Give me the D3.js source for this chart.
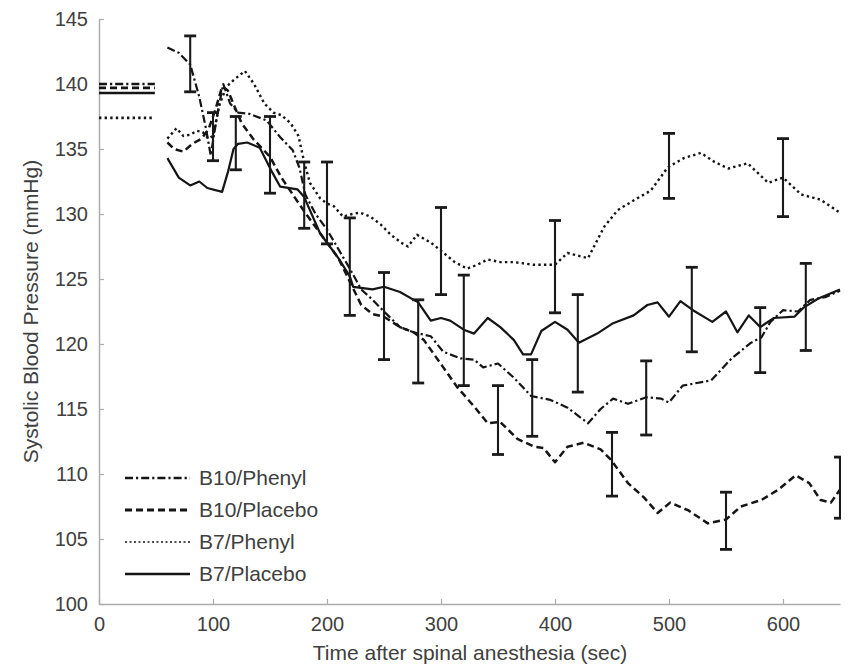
<!DOCTYPE html>
<html><head><meta charset="utf-8">
<script src="https://cdn.jsdelivr.net/npm/d3@7/dist/d3.min.js"></script>
<style>body{margin:0;background:#fff}svg text{font-family:"Liberation Sans",Arial,sans-serif;fill:#404040}</style>
</head><body>
<svg id="c" width="853" height="667"></svg>
<script>
// ---- data ----
const seriesNames = ["B10/Phenyl", "B10/Placebo", "B7/Phenyl", "B7/Placebo"];
const xTicks = [0, 100, 200, 300, 400, 500, 600];
const yTicks = [100, 105, 110, 115, 120, 125, 130, 135, 140, 145];

// baseline (pre-anesthesia) values shown as short lines at left, 0-50 s
const baselineStart = 0, baselineEnd = 49;
const baselineValues = [140.0, 139.7, 137.4, 139.3];

const b10PhenylT = [60,70,80,88,94,98,104,109,115,122,132,147,159,170,176,181,190,200,210,220,230,240,250,264,276,291,302,317,329,337,350,364,379,396,411,429,440,451,464,480,493,500,512,537,555,572,581,589,600,613,624,637,650];
const b10PhenylV = [142.8,142.4,141.5,139.0,136.5,134.5,137.8,140.0,138.5,137.8,137.7,137.2,135.9,134.9,133.5,131.5,130.0,128.8,127.3,125.8,124.2,123.4,122.5,121.3,120.9,120.6,119.4,118.9,118.8,118.2,118.5,117.4,116.0,115.7,115.1,113.9,115.0,115.8,115.4,115.9,115.8,115.5,116.8,117.2,118.9,120.1,120.5,121.7,122.6,122.5,123.4,123.6,124.1];

const b10PlaceboT = [60,66,74,82,90,96,102,108,113,125,135,150,160,170,180,190,200,210,220,230,240,250,264,276,285,302,314,329,341,352,367,382,390,400,411,425,440,449,464,478,490,501,517,534,550,563,581,596,611,623,633,642,650];
const b10PlaceboV = [135.5,135.0,134.8,135.4,135.8,136.5,138.0,139.8,139.5,137.0,135.8,134.4,132.8,131.5,130.2,129.0,127.8,126.6,124.8,123.0,122.3,122.1,121.3,120.9,120.3,118.2,116.7,115.2,113.9,114.0,112.7,112.1,112.0,110.9,112.1,112.4,111.9,111.1,109.3,108.2,107.0,107.8,107.2,106.2,106.5,107.5,108.0,108.8,109.9,109.3,108.0,107.8,108.8];

const b7PhenylT = [60,64,68,74,80,86,91,96,100,106,112,118,128,136,145,153,160,168,175,180,185,194,200,206,214,222,229,238,247,256,265,271,279,291,301,312,323,332,341,352,364,381,400,411,420,429,443,455,472,484,499,513,528,540,552,569,587,600,616,633,650];
const b7PhenylV = [135.8,136.2,136.6,136.0,136.1,136.4,136.3,135.8,136.0,138.5,139.8,140.3,141.0,140.0,138.5,137.8,137.6,137.0,136.0,134.0,132.4,131.2,130.8,130.6,129.8,130.0,130.1,129.8,129.2,128.4,127.8,127.5,128.4,127.8,127.1,126.3,125.8,126.1,126.5,126.3,126.3,126.1,126.1,127.0,126.8,126.6,129.0,130.3,131.2,131.8,133.6,134.3,134.7,134.0,133.5,133.9,132.4,132.8,131.5,131.1,130.1];

const b7PlaceboT = [60,70,80,88,95,108,113,118,122,130,141,152,159,174,180,194,210,220,223,240,250,264,280,291,300,308,320,329,341,352,364,372,379,388,400,411,421,437,451,469,481,490,500,510,521,538,550,560,570,580,592,610,618,631,650];
const b7PlaceboV = [134.3,132.8,132.2,132.5,132.0,131.7,133.2,135.0,135.4,135.5,135.1,133.2,132.1,131.9,131.3,128.5,126.6,125.2,124.4,124.2,124.4,124.0,123.2,121.8,122.0,121.8,121.1,120.8,122.0,121.3,120.3,119.2,119.2,121.0,121.7,121.1,120.1,120.8,121.6,122.2,123.0,123.2,122.1,123.3,122.6,121.7,122.5,120.9,122.2,121.3,122.0,122.1,122.8,123.5,124.2];

// error bars: time, low, high
const errT  = [80,100,120,150,180,200,220,250,280,300,320,350,380,400,420,450,480,500,520,550,580,600,620,650];
const errLo = [139.4,134.1,133.4,131.6,128.9,127.7,122.2,118.8,117.0,123.8,116.8,111.5,112.9,122.4,116.3,108.3,113.0,131.2,119.4,104.2,117.8,129.8,119.5,106.6];
const errHi = [143.7,137.8,137.5,137.5,134.0,134.0,129.7,125.5,123.4,130.5,125.3,116.8,118.8,129.5,123.8,113.2,118.7,136.2,125.9,108.6,122.8,135.8,126.2,111.3];

const xLabel = "Time after spinal anesthesia (sec)";
const yLabel = "Systolic Blood Pressure (mmHg)";

// ---- drawing ----
const svg = d3.select("#c");
const x = d3.scaleLinear().domain([0, 650]).range([99, 840]);
const y = d3.scaleLinear().domain([100, 145]).range([604, 19]);

const dashes = ["8,3,2.2,3", "7,4", "2.4,3.2", null];
const widths = [2.2, 2.5, 2.4, 2.2];
const ink = "#151515";

svg.append("defs").append("clipPath").attr("id", "plotclip")
  .append("rect").attr("x", 99).attr("y", 0).attr("width", 742).attr("height", 667);

// axes
const axisColor = "#adadad";
const gx = svg.append("g").attr("transform", `translate(0,${y(100)})`)
  .call(d3.axisBottom(x).tickValues(xTicks).tickSizeInner(-5).tickSizeOuter(0).tickPadding(13).tickFormat(d3.format("d")));
const gy = svg.append("g").attr("transform", `translate(${x(0)},0)`)
  .call(d3.axisLeft(y).tickValues(yTicks).tickSizeInner(-5).tickSizeOuter(0).tickPadding(11).tickFormat(d3.format("d")));
[gx, gy].forEach(g => {
  g.select(".domain").attr("stroke", axisColor).attr("stroke-width", 1.5);
  g.selectAll(".tick line").attr("stroke", axisColor).attr("stroke-width", 1.2);
  g.selectAll(".tick text").attr("font-size", 20).attr("fill", "#404040")
    .style("font-family", '"Liberation Sans", Arial, sans-serif');
});

svg.append("text").attr("x", 470).attr("y", 660).attr("text-anchor", "middle")
  .attr("font-size", 21).text(xLabel);
svg.append("text").attr("transform", `translate(38,${y(122.5)}) rotate(-90)`)
  .attr("text-anchor", "middle").attr("font-size", 21).text(yLabel);

// baseline segments
const plot = svg.append("g").attr("clip-path", "url(#plotclip)");
baselineValues.forEach((v, i) => {
  plot.append("line").attr("x1", x(baselineStart)).attr("x2", x(baselineEnd))
    .attr("y1", y(v)).attr("y2", y(v))
    .attr("stroke", ink).attr("stroke-width", widths[i] + 0.3)
    .attr("stroke-dasharray", dashes[i]);
});

// series lines
const allT = [b10PhenylT, b10PlaceboT, b7PhenylT, b7PlaceboT];
const allV = [b10PhenylV, b10PlaceboV, b7PhenylV, b7PlaceboV];
const line = d3.line().x(d => x(d[0])).y(d => y(d[1]));
allT.forEach((ts, i) => {
  const pts = ts.map((t, j) => [t, allV[i][j]]);
  plot.append("path").attr("d", line(pts)).attr("fill", "none")
    .attr("stroke", ink).attr("stroke-width", widths[i])
    .attr("stroke-dasharray", dashes[i]).attr("stroke-linejoin", "round");
});

// error bars
const cap = 6;
errT.forEach((t, i) => {
  const g = plot.append("g").attr("stroke", "#1a1a1a").attr("stroke-width", 2.1);
  g.append("line").attr("x1", x(t)).attr("x2", x(t)).attr("y1", y(errLo[i])).attr("y2", y(errHi[i]));
  g.append("line").attr("x1", x(t) - cap).attr("x2", x(t) + cap).attr("y1", y(errLo[i])).attr("y2", y(errLo[i])).attr("stroke-width", 2.8);
  g.append("line").attr("x1", x(t) - cap).attr("x2", x(t) + cap).attr("y1", y(errHi[i])).attr("y2", y(errHi[i])).attr("stroke-width", 2.8);
});

// legend
const legY = [478, 510, 542, 574];
seriesNames.forEach((n, i) => {
  svg.append("line").attr("x1", 125).attr("x2", 190).attr("y1", legY[i]).attr("y2", legY[i])
    .attr("stroke", ink).attr("stroke-width", i === 2 ? 1.6 : widths[i] + 0.3)
    .attr("stroke-dasharray", i === 2 ? "2,2.5" : dashes[i]);
  svg.append("text").attr("x", 199).attr("y", legY[i] + 7).attr("font-size", 21).text(n);
});
</script>
</body></html>
